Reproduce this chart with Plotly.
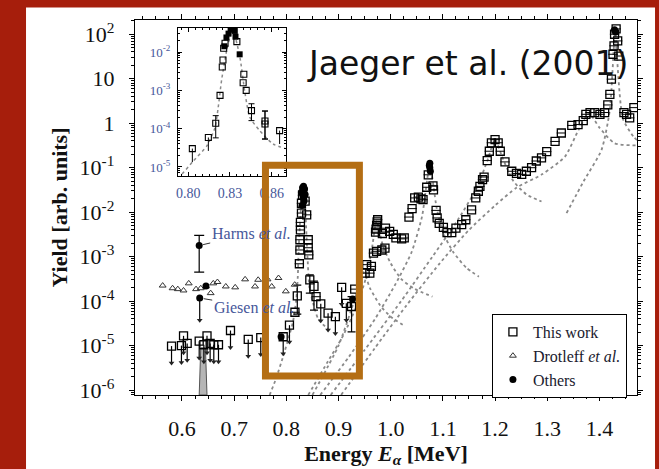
import numpy as np
import plotly.graph_objects as go

# ---------------- data (energy in MeV, log10 of yield) ----------------
# "This work" measured points
tw_E = [0.8165, 0.825, 0.826, 0.826, 0.827, 0.827, 0.829, 0.829, 0.831, 0.836, 0.839, 0.842, 0.842, 0.843,
        0.857, 0.931, 0.951, 0.954, 0.960, 0.963, 0.967, 0.973, 0.983, 0.989, 0.971, 0.972, 0.973, 0.974,
        0.975, 0.984, 0.990, 0.998, 1.005, 1.010, 1.021, 1.026, 1.035, 1.041, 1.046, 1.053, 1.058, 1.062,
        1.069, 1.072, 1.081, 1.082, 1.087, 1.089, 1.093, 1.101, 1.108, 1.117, 1.125, 1.136, 1.144, 1.155,
        1.163, 1.168, 1.171, 1.176, 1.179, 1.185, 1.189, 1.193, 1.200, 1.206, 1.210, 1.219, 1.232, 1.241,
        1.251, 1.260, 1.270, 1.279, 1.289, 1.299, 1.315, 1.327, 1.347, 1.359, 1.369, 1.374, 1.382, 1.391,
        1.401, 1.410, 1.416, 1.420, 1.423, 1.426, 1.428, 1.429, 1.432, 1.435, 1.437, 1.447, 1.452, 1.458,
        1.466]
tw_logY = [-4.25, -3.16, -2.85, -2.62, -2.40, -2.23, -2.02, -1.80, -1.62, -1.75, -2.06, -2.62, -2.80, -2.96,
           -3.90, -3.73, -3.37, -3.18, -3.37, -3.22, -2.92, -2.88, -2.85, -2.81, -2.45, -2.38, -2.30, -2.22,
           -2.17, -2.48, -2.36, -2.43, -2.50, -2.58, -2.60, -2.58, -2.11, -1.92, -1.68, -1.66, -1.70, -1.72,
           -1.44, -1.16, -1.41, -1.50, -1.96, -2.13, -2.25, -2.34, -2.46, -2.46, -2.36, -2.28, -2.17, -1.95,
           -1.68, -1.53, -1.42, -1.27, -1.21, -0.84, -0.63, -0.44, -0.37, -0.44, -0.63, -0.87, -1.08, -1.13,
           -1.15, -1.08, -1.00, -0.85, -0.78, -0.64, -0.41, -0.22, -0.05, -0.03, 0.06, 0.20, 0.24, 0.24,
           0.20, 0.24, 0.41, 0.65, 0.99, 1.55, 1.74, 2.00, 2.12, 1.85, 1.51, 0.24, 0.20, 0.12,
           0.35]
# "This work" with vertical error bars
twe_E = [0.821, 0.845, 0.853, 0.925]
twe_logY = [-3.88, -3.52, -3.67, -4.12]
twe_logHi = [-3.64, -3.41, -3.55, -3.90]
twe_logLo = [-4.29, -3.82, -4.20, -4.69]
# "This work" upper limits
ul_E = [0.580, 0.599, 0.603, 0.610, 0.633, 0.642, 0.648, 0.654, 0.661, 0.670, 0.693, 0.727, 0.751,
        0.794, 0.806, 0.866, 0.880, 0.894, 0.906, 0.915]
ul_logY = [-5.01, -5.00, -4.78, -4.95, -4.90, -4.98, -4.78, -4.95, -4.98, -4.98, -4.66, -4.86, -4.82,
           -4.80, -4.54, -4.06, -4.27, -4.35, -3.69, -4.05]
# Drotleff et al.
dr_E = [0.563, 0.582, 0.592, 0.603, 0.613, 0.627, 0.636, 0.646, 0.655, 0.660, 0.668, 0.684, 0.702,
        0.721, 0.740, 0.746, 0.764, 0.772, 0.785, 0.799, 0.816]
dr_logY = [-3.65, -3.71, -3.73, -3.76, -3.60, -3.73, -3.71, -3.67, -3.82, -3.60, -3.57, -3.67, -3.69,
           -3.51, -3.67, -3.52, -3.51, -3.67, -3.48, -3.78, -3.63]
# Others
ot_E = [0.646, 0.790, 0.829, 0.831, 0.833, 0.835, 0.832, 0.834, 0.830, 0.836, 0.927,
        1.074, 1.075, 1.076, 1.075, 1.429, 1.431]
ot_logY = [-3.66, -4.80, -1.55, -1.45, -1.42, -1.48, -1.65, -1.75, -1.85, -1.60, -3.95,
           -0.95, -1.00, -1.08, -0.90, 2.10, 2.05]
harms_E, harms_logY, harms_logHi, harms_logLo = [0.633], [-2.75], [-2.52], [-3.35]
giesen_E, giesen_logY = [0.634], [-3.93]
# shaded band near 0.64 MeV
band_E = [0.633, 0.636, 0.645, 0.648, 0.633]
band_logY = [-6.11, -5.05, -5.05, -6.11, -6.11]

# fitted resonance curves (dotted)
cA_E = [0.768, 0.78, 0.794, 0.804, 0.813, 0.819, 0.822, 0.824, 0.828, 0.832, 0.836, 0.8407, 0.8443, 0.8514, 0.861, 0.870, 0.880]
cA_logY = [-6.11, -5.75, -5.24, -4.84, -4.45, -3.97, -3.44, -2.74, -1.90, -1.42, -1.90, -3.04, -3.70, -4.05, -4.40, -4.52, -4.62]
cB_E = [0.842, 0.88, 0.91, 0.935, 0.952, 0.963, 0.973, 0.985, 1.0, 1.02, 1.045, 1.08]
cB_logY = [-6.11, -5.35, -4.75, -4.10, -3.50, -2.90, -2.20, -2.75, -3.15, -3.50, -3.72, -3.90]
cB2_E = [0.85, 0.90, 0.93, 0.948, 0.96, 0.98, 1.0, 1.028]
cB2_logY = [-6.11, -5.00, -4.00, -3.35, -3.70, -4.10, -4.35, -4.57]
cC_E = [0.865, 0.92, 0.97, 1.01, 1.04, 1.06, 1.075, 1.088, 1.10, 1.12, 1.145, 1.169]
cC_logY = [-6.11, -5.25, -4.40, -3.60, -2.90, -2.10, -0.95, -1.90, -2.45, -2.90, -3.25, -3.45]
cD_E = [0.885, 0.95, 1.02, 1.08, 1.13, 1.165, 1.185, 1.20, 1.215, 1.235, 1.26, 1.289]
cD_logY = [-6.11, -5.10, -4.00, -3.00, -2.15, -1.45, -0.85, -0.37, -0.80, -1.30, -1.60, -1.76]
cE_E = [0.905, 0.97, 1.03, 1.094, 1.15, 1.20, 1.241, 1.29, 1.334, 1.36, 1.38, 1.40, 1.429, 1.472]
cE_logY = [-6.11, -5.05, -4.10, -3.15, -2.40, -1.85, -1.45, -1.15, -0.75, -0.15, 0.22, -0.10, -0.45, -0.50]
cF_E = [1.337, 1.37, 1.404, 1.42, 1.43, 1.433, 1.445, 1.465, 1.472]
cF_logY = [-2.02, -1.30, -0.60, 0.30, 2.10, 1.60, 0.10, -0.30, -0.38]

# inset data
in_tw_E = [0.8229, 0.8245, 0.825, 0.8255, 0.8265, 0.8395, 0.840, 0.8417, 0.835]
in_tw_logY = [-3.13, -2.39, -2.21, -1.90, -1.77, -2.80, -2.58, -3.00, -1.73]
in_err_E = [0.8198, 0.8455, 0.8552, 0.8552]
in_err_logY = [-3.86, -3.53, -3.80, -3.88]
in_err_hi = [-3.66, -3.35, -3.54, -3.54]
in_err_lo = [-4.24, -3.79, -4.27, -4.27]
in_ul_E = [0.803, 0.8145, 0.8657]
in_ul_logY = [-4.52, -4.23, -4.05]
in_ot_E = [0.829, 0.8305, 0.832, 0.8335, 0.834, 0.837, 0.826, 0.8275]
in_ot_logY = [-1.52, -1.42, -1.40, -1.45, -1.60, -2.06, -1.85, -1.62]
in_c_E = [0.7929, 0.7943, 0.8038, 0.8134, 0.8193, 0.8216, 0.824, 0.828, 0.832, 0.8371, 0.8407, 0.8443, 0.8514, 0.861, 0.870]
in_c_logY = [-5.30, -5.24, -4.84, -4.45, -3.97, -3.44, -2.74, -1.90, -1.42, -2.12, -3.04, -3.70, -4.05, -4.40, -4.52]

# axis ticks / labels
x_tick_vals = [0.6, 0.7, 0.8, 0.9, 1.0, 1.1, 1.2, 1.3, 1.4]
x_tick_text = ['0.6', '0.7', '0.8', '0.9', '1.0', '1.1', '1.2', '1.3', '1.4']
y_tick_exp = [-6, -5, -4, -3, -2, -1, 0, 1, 2]
y_tick_text = ['10<sup>-6</sup>', '10<sup>-5</sup>', '10<sup>-4</sup>', '10<sup>-3</sup>', '10<sup>-2</sup>',
               '10<sup>-1</sup>', '1', '10', '10<sup>2</sup>']
in_x_tick_vals = [0.80, 0.83, 0.86]
in_x_tick_text = ['0.80', '0.83', '0.86']
in_y_tick_exp = [-5, -4, -3, -2]
in_y_tick_text = ['10<sup>-5</sup>', '10<sup>-4</sup>', '10<sup>-3</sup>', '10<sup>-2</sup>']

# highlight box (data units)
box_E = [0.760, 0.940]
box_logY = [-5.685, -0.944]

# ---------------- styling ----------------
RED = '#a61e0c'
ORANGE = '#b46e14'
SERIF = 'Liberation Serif'
INK = '#111111'
BLUE = '#46579a'
ARROW_DEC = 0.38


def Y(a):
    return 10.0 ** np.asarray(a, dtype=float)


fig = go.Figure()

# shaded band
fig.add_trace(go.Scatter(x=band_E, y=Y(band_logY), mode='lines', fill='toself', fillcolor='#b5b5b5',
                         line=dict(color='#555555', width=1), showlegend=False, hoverinfo='skip'))

# dotted fit curves
for ce, cl in [(cA_E, cA_logY), (cB_E, cB_logY), (cB2_E, cB2_logY), (cC_E, cC_logY),
               (cD_E, cD_logY), (cE_E, cE_logY), (cF_E, cF_logY)]:
    fig.add_trace(go.Scatter(x=ce, y=Y(cl), mode='lines', line=dict(color='#8a8a8a', width=1.8, dash='dot', shape='spline', smoothing=0.6),
                             showlegend=False, hoverinfo='skip'))

sq = dict(symbol='square-open', size=8, color='black', line=dict(width=1.3, color='black'))

# main this-work points
fig.add_trace(go.Scatter(x=tw_E, y=Y(tw_logY), mode='markers', name='This work', marker=sq,
                         error_x=dict(type='constant', value=0.009, width=0, thickness=1, color='black')))
# with error bars
twe_y = Y(twe_logY)
fig.add_trace(go.Scatter(x=twe_E, y=twe_y, mode='markers', showlegend=False, marker=sq,
                         error_y=dict(type='data', symmetric=False, array=Y(twe_logHi) - twe_y,
                                      arrayminus=twe_y - Y(twe_logLo), width=4, thickness=1.2, color='black')))
# upper limits
ul_y = Y(ul_logY)
ul_tip = ul_y / 10 ** ARROW_DEC
fig.add_trace(go.Scatter(x=ul_E, y=ul_y, mode='markers', showlegend=False, marker=sq,
                         error_y=dict(type='data', symmetric=False, array=np.zeros(len(ul_E)),
                                      arrayminus=ul_y - ul_tip, width=0, thickness=1.2, color='black')))
fig.add_trace(go.Scatter(x=ul_E, y=ul_tip, mode='markers', showlegend=False, hoverinfo='skip',
                         marker=dict(symbol='triangle-down', size=5, color='#222222')))

# Drotleff
fig.add_trace(go.Scatter(x=dr_E, y=Y(dr_logY), mode='markers', name='Drotleff <i>et al.</i>',
                         marker=dict(symbol='triangle-up-open', size=6, color='#333333', line=dict(width=1, color='#333333'))))

# Others
fig.add_trace(go.Scatter(x=ot_E, y=Y(ot_logY), mode='markers', name='Others',
                         marker=dict(symbol='circle', size=7, color='black')))
h_y = Y(harms_logY)
fig.add_trace(go.Scatter(x=harms_E, y=h_y, mode='markers', showlegend=False,
                         marker=dict(symbol='circle', size=7, color='black'),
                         error_y=dict(type='data', symmetric=False, array=Y(harms_logHi) - h_y,
                                      arrayminus=h_y - Y(harms_logLo), width=5, thickness=1.2, color='black')))
g_y = Y(giesen_logY)
g_tip = g_y / 10 ** 0.5
fig.add_trace(go.Scatter(x=giesen_E, y=g_y, mode='markers', showlegend=False,
                         marker=dict(symbol='circle', size=7, color='black'),
                         error_y=dict(type='data', symmetric=False, array=[0], arrayminus=g_y - g_tip,
                                      width=0, thickness=1.2, color='black')))
fig.add_trace(go.Scatter(x=giesen_E, y=g_tip, mode='markers', showlegend=False,
                         marker=dict(symbol='triangle-down', size=5, color='#222222')))

# ---------------- inset ----------------
sq_s = dict(symbol='square-open', size=6, color='black', line=dict(width=1.1, color='black'))
fig.add_trace(go.Scatter(x=in_c_E, y=Y(in_c_logY), mode='lines', xaxis='x2', yaxis='y2', showlegend=False,
                         line=dict(color='#8a8a8a', width=1.5, dash='dot', shape='spline', smoothing=0.6), hoverinfo='skip'))
fig.add_trace(go.Scatter(x=in_tw_E, y=Y(in_tw_logY), mode='markers', xaxis='x2', yaxis='y2', showlegend=False,
                         marker=sq_s))
ie_y = Y(in_err_logY)
fig.add_trace(go.Scatter(x=in_err_E, y=ie_y, mode='markers', xaxis='x2', yaxis='y2', showlegend=False,
                         marker=sq_s,
                         error_y=dict(type='data', symmetric=False, array=Y(in_err_hi) - ie_y,
                                      arrayminus=ie_y - Y(in_err_lo), width=3, thickness=1, color='black')))
iu_y = Y(in_ul_logY)
fig.add_trace(go.Scatter(x=in_ul_E, y=iu_y, mode='markers', xaxis='x2', yaxis='y2', showlegend=False,
                         marker=sq_s,
                         error_y=dict(type='data', symmetric=False, array=np.zeros(len(in_ul_E)),
                                      arrayminus=iu_y - iu_y / 10 ** 0.35, width=0, thickness=1, color='black')))
fig.add_trace(go.Scatter(x=in_ot_E, y=Y(in_ot_logY), mode='markers', xaxis='x2', yaxis='y2', showlegend=False,
                         marker=dict(symbol='square', size=6, color='black')))

# ---------------- layout ----------------
minor_y = [m * 10.0 ** e for e in range(-7, 3) for m in range(2, 10)]
axis_common = dict(showline=True, linecolor='black', linewidth=1.3, mirror='ticks', ticks='outside',
                   tickcolor='black', tickwidth=1, showgrid=False, zeroline=False)

fig.update_layout(
    width=659, height=469,
    margin=dict(l=135, r=22, t=20, b=74),
    paper_bgcolor=RED, plot_bgcolor='white',
    xaxis=dict(**axis_common, domain=[0, 1], anchor='y', range=[0.51, 1.472], ticklen=5,
               tickvals=x_tick_vals, ticktext=x_tick_text, ticklabelstandoff=8,
               tickfont=dict(family=SERIF, size=22, color=INK),
               minor=dict(dtick=0.025, tick0=0.5, ticks='outside', ticklen=3, tickcolor='black'),
               title=dict(text='<b>Energy <i>E</i><sub><i>α</i></sub> [MeV]</b>',
                          font=dict(family=SERIF, size=22, color=INK), standoff=2)),
    yaxis=dict(**axis_common, domain=[0, 1], anchor='x', type='log', range=[-6.11, 2.32], ticklen=5,
               tickvals=Y(y_tick_exp), ticktext=y_tick_text, ticklabelstandoff=10,
               tickfont=dict(family=SERIF, size=22, color=INK),
               minor=dict(tickmode='array', tickvals=minor_y, ticks='outside', ticklen=3, tickcolor='black'),
               title=dict(text='<b>Yield [arb. units]</b>', font=dict(family=SERIF, size=22, color=INK), standoff=5)),
    xaxis2=dict(showline=True, linecolor='black', linewidth=1, mirror='ticks', ticks='inside', tickcolor='black',
                showgrid=False, zeroline=False, domain=[0.0857, 0.3008], anchor='y2', range=[0.7927, 0.8703],
                tickvals=in_x_tick_vals, ticktext=in_x_tick_text, ticklen=4, ticklabelstandoff=4,
                tickfont=dict(family=SERIF, size=14, color=BLUE),
                minor=dict(dtick=0.005, tick0=0.8, ticks='inside', ticklen=2, tickcolor='black')),
    yaxis2=dict(showline=True, linecolor='black', linewidth=1, mirror='ticks', ticks='inside', tickcolor='black',
                showgrid=False, zeroline=False, domain=[0.584, 0.9787], anchor='x2', type='log', range=[-5.235, -1.373],
                tickvals=Y(in_y_tick_exp), ticktext=in_y_tick_text, ticklen=4, ticklabelstandoff=4,
                tickfont=dict(family=SERIF, size=13, color=BLUE),
                minor=dict(tickmode='array', tickvals=minor_y, ticks='inside', ticklen=2, tickcolor='black')),
    legend=dict(x=0.711, y=0.216, xanchor='left', yanchor='top', bgcolor='white', bordercolor='black', borderwidth=1,
                font=dict(family=SERIF, size=16, color='#1a1a2e'), tracegroupgap=0, itemwidth=30),
    showlegend=True,
)

# white slide panel behind the chart
fig.add_shape(type='rect', xref='paper', yref='paper', x0=-0.2171, x1=1.0359, y0=-0.1973, y1=1.0333,
              fillcolor='white', line=dict(width=0), layer='below')
# orange highlight box
fig.add_shape(type='rect', xref='x', yref='y', x0=box_E[0], x1=box_E[1], y0=Y(box_logY[0]), y1=Y(box_logY[1]),
              line=dict(color=ORANGE, width=7), fillcolor='rgba(0,0,0,0)', layer='above')

# annotations
fig.add_annotation(x=harms_E[0], y=harms_logY[0], xref='x', yref='y', text='Harms <i>et al.</i>',
                   showarrow=True, arrowhead=0, arrowwidth=1, arrowcolor='#333333', ax=52, ay=-12, standoff=4,
                   font=dict(family=SERIF, size=16, color=BLUE))
fig.add_annotation(x=giesen_E[0], y=giesen_logY[0], xref='x', yref='y', text='Giesen <i>et al.</i>',
                   showarrow=True, arrowhead=0, arrowwidth=1, arrowcolor='#333333', ax=54, ay=9, standoff=4,
                   font=dict(family=SERIF, size=16, color=BLUE))
fig.add_annotation(x=0.663, y=0.885, xref='paper', yref='paper', xanchor='center', yanchor='middle',
                   text='Jaeger et al. (2001)', showarrow=False,
                   font=dict(family='DejaVu Sans', size=33, color=INK))

fig.write_html('out.html')
